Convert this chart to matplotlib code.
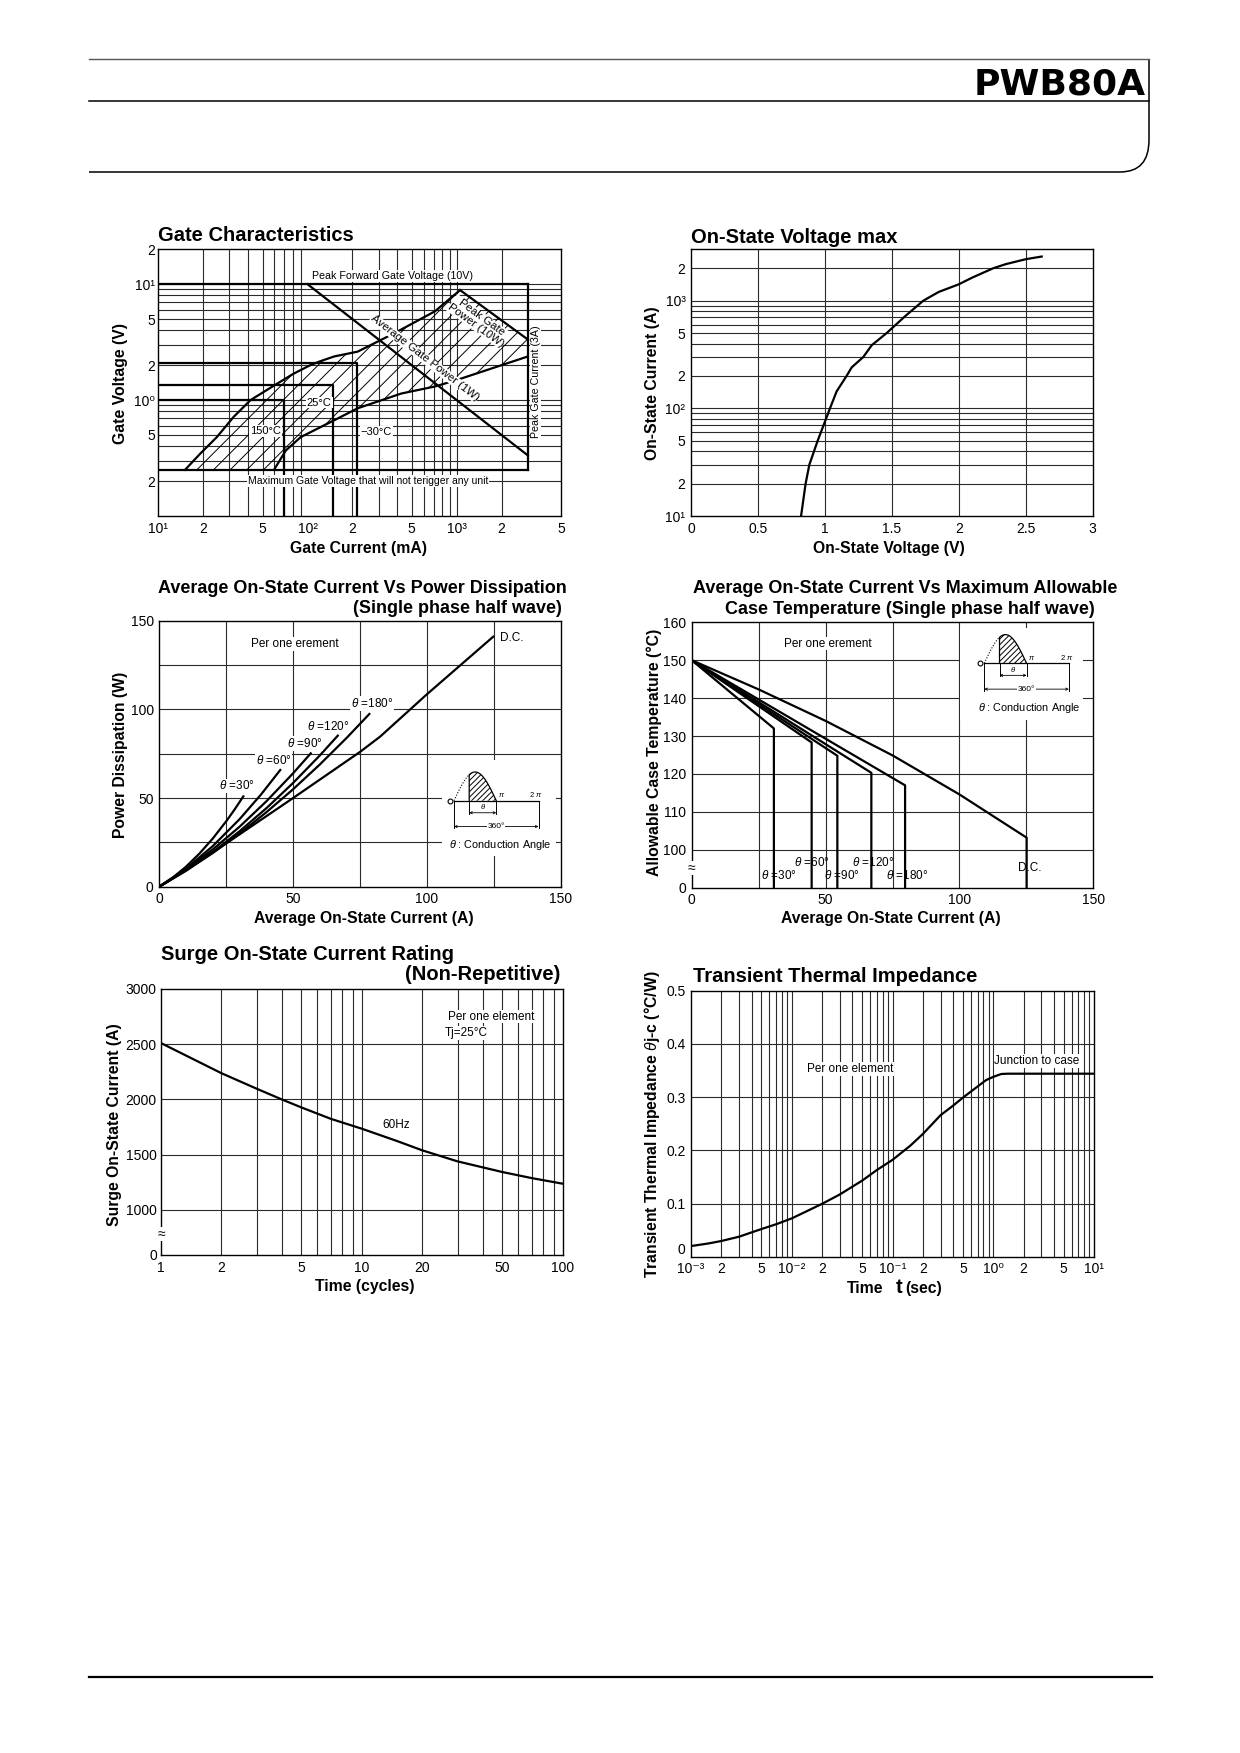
import numpy as np
import matplotlib
matplotlib.use('Agg')
import matplotlib.pyplot as plt
from matplotlib.lines import Line2D
from matplotlib.patches import Polygon, PathPatch
from matplotlib.path import Path
from matplotlib.ticker import NullLocator, NullFormatter

plt.rcParams['font.family'] = ['Liberation Sans', 'DejaVu Sans']
plt.rcParams['mathtext.fontset'] = 'custom'
plt.rcParams['mathtext.rm'] = 'Liberation Sans'
plt.rcParams['mathtext.it'] = 'Liberation Sans:italic'
plt.rcParams['mathtext.bf'] = 'Liberation Sans:bold'
plt.rcParams['hatch.linewidth'] = 0.7
plt.rcParams['hatch.color'] = 'black'

# ---------------- data ----------------
# Gate characteristics (mA, V)
gate_upper_I = [15.1, 19.1, 24.7, 32.0, 41.5, 62.8, 80, 102.6, 120, 151, 217, 384, 714, 1052]
gate_upper_V = [0.25, 0.345, 0.48, 0.717, 1.0, 1.39, 1.68, 1.98, 2.15, 2.38, 2.62, 3.79, 5.83, 8.88]
gate_lower_I = [59.6, 71.6, 90.2, 151, 217, 426, 714, 1000, 3000]
gate_lower_V = [0.25, 0.368, 0.48, 0.67, 0.85, 1.14, 1.31, 1.49, 2.38]
peak_power_I = [1052, 3000]
peak_power_V = [8.9, 3.33]
avg_power_I = [100, 3000]
avg_power_V = [10, 0.333]
peak_fwd_gate_V = 10
peak_gate_I = 3000
gate_nontrig_V = 0.25
temp_labels = ['150°C', '25°C', '\u221230°C']
temp_IGT = [70, 149, 214]
temp_VGT = [1.0, 1.34, 2.1]

# On-state voltage max
vt_V = [0.822, 0.856, 0.884, 0.946, 1.038, 1.088, 1.162, 1.2, 1.287, 1.35, 1.461, 1.6, 1.735,
        1.85, 2.0, 2.1, 2.257, 2.35, 2.5, 2.619]
vt_I = [10, 20, 30, 50, 100, 144, 200, 240, 300, 386, 500, 719, 1000,
        1205, 1419, 1637, 2000, 2183, 2427, 2570]

# Average current vs power dissipation
pd_I_30 = [0, 5, 10, 15, 20, 25, 28, 31.4]
pd_P_30 = [0, 5.08, 11.3, 18.68, 27.2, 36.88, 43.23, 50.94]
pd_I_60 = [0, 10, 20, 30, 38, 45.2]
pd_P_60 = [0, 10.23, 22.92, 38.07, 51.96, 65.81]
pd_I_90 = [0, 10, 20, 30, 40, 50, 56.6]
pd_P_90 = [0, 9.76, 21.03, 33.82, 48.13, 63.95, 75.2]
pd_I_120 = [0, 10, 20, 30, 40, 50, 60, 66.7]
pd_P_120 = [0, 9.14, 19.56, 31.26, 44.24, 58.5, 74.04, 85.17]
pd_I_180 = [0, 10, 20, 30, 40, 50, 60, 70, 78.5]
pd_P_180 = [0, 9.0, 19.0, 29.98, 41.97, 54.95, 68.93, 83.9, 97.4]
pd_I_dc = [0, 10, 25, 50, 75, 82.5, 100, 124.8]
pd_P_dc = [0, 9.5, 24.4, 50, 76, 84.6, 108.5, 141]

# Average current vs allowable case temperature
ct_I_30 = [0, 30.7, 30.7]
ct_T_30 = [150, 132, 90]
ct_I_60 = [0, 44.8, 44.8]
ct_T_60 = [150, 128.3, 90]
ct_I_90 = [0, 54.4, 54.4]
ct_T_90 = [150, 124.8, 90]
ct_I_120 = [0, 67.1, 67.1]
ct_T_120 = [150, 120.3, 90]
ct_I_180 = [0, 79.7, 79.7]
ct_T_180 = [150, 117.0, 90]
ct_I_dc = [0, 25, 50, 75, 100, 125.1, 125.1]
ct_T_dc = [150, 142.3, 134.0, 124.9, 114.6, 103.2, 90]

# Surge on-state current
surge_cycles = [1, 2, 3, 4, 5, 7, 10, 15, 20, 30, 50, 70, 100]
surge_I = [2510, 2237, 2096, 1999, 1927, 1824, 1734, 1622, 1538, 1438, 1342, 1287, 1236]

# Transient thermal impedance
tt_t = [1e-3, 1.5e-3, 2e-3, 3e-3, 5e-3, 7e-3, 1e-2, 2e-2, 3e-2, 5e-2, 7e-2, 1e-1, 1.5e-1, 2e-1,
        3e-1, 4e-1, 5e-1, 7e-1, 0.85, 1.0, 1.2, 1.4, 10]
tt_Z = [0.020, 0.025, 0.0295, 0.0376, 0.052, 0.061, 0.072, 0.0994, 0.117, 0.143, 0.163, 0.182,
        0.2086, 0.2306, 0.266, 0.284, 0.299, 0.320, 0.332, 0.338, 0.3434, 0.344, 0.344]

# ---------------- helpers ----------------
W, H = 1240, 1753
fig = plt.figure(figsize=(W / 100, H / 100), dpi=100)
fig.patch.set_facecolor('white')

GRID = dict(color='#2a2a2a', lw=0.8, zorder=1)
CURVE = dict(color='black', lw=1.6, zorder=3)
BOLD = dict(color='black', lw=1.6, zorder=3)
TICK_FS = 10
SMALL_FS = 8.5
TITLE = dict(fontsize=14.5, fontweight='bold', va='baseline')
TITLE2 = dict(fontsize=13.0, fontweight='bold', va='baseline')
LABEL = dict(fontsize=11.3, fontweight='bold')
WHITE = dict(facecolor='white', edgecolor='none', pad=0.6)


def px_axes(l, t, r, b):
    ax = fig.add_axes([l / W, 1 - b / H, (r - l) / W, (b - t) / H])
    for s in ax.spines.values():
        s.set_linewidth(1.0)
        s.set_color('black')
        s.set_zorder(5)
    ax.tick_params(which='both', length=0, labelsize=TICK_FS, pad=4)
    return ax


def ftext(x, y, s, **kw):
    return fig.text(x / W, 1 - y / H, s, **kw)


def grid(ax, xs=(), ys=()):
    for v in xs:
        ax.axvline(v, **GRID)
    for v in ys:
        ax.axhline(v, **GRID)


def no_minor(ax):
    for a in (ax.xaxis, ax.yaxis):
        a.set_minor_locator(NullLocator())
        a.set_minor_formatter(NullFormatter())


def cond_inset(box, origin, text_x, sx=13.45, sy=28.7):
    l, t, r, b = box
    ox, oy = origin
    ia = fig.add_axes([l / W, 1 - b / H, (r - l) / W, (b - t) / H])
    ia.set_xlim((l - ox) / sx, (r - ox) / sx)
    ia.set_ylim((oy - b) / sy, (oy - t) / sy)
    ia.set_xticks([])
    ia.set_yticks([])
    for s in ia.spines.values():
        s.set_visible(False)
    ia.set_facecolor('white')
    a = 0.36 * np.pi
    p = np.linspace(0, a, 30)
    ia.plot(p, np.sin(p), ls=(0, (1, 1.5)), color='k', lw=0.8)
    q = np.linspace(a, np.pi, 40)
    ia.fill_between(q, 0, np.sin(q), facecolor='white', edgecolor='k', hatch='//////', lw=0)
    ia.plot(np.r_[a, q], np.r_[0, np.sin(q)], color='k', lw=0.9)
    ia.plot([0, 2 * np.pi], [0, 0], color='k', lw=0.9)
    ia.plot([0, 0], [0, -0.95], color='k', lw=0.7)
    ia.plot([2 * np.pi, 2 * np.pi], [0, -0.95], color='k', lw=0.7)
    ia.plot([a, a], [0, -0.45], color='k', lw=0.7)
    ia.plot([np.pi, np.pi], [0, -0.45], color='k', lw=0.7)
    ia.annotate('', xy=(a, -0.42), xytext=(np.pi, -0.42),
                arrowprops=dict(arrowstyle='<->', lw=0.6, mutation_scale=4, shrinkA=0, shrinkB=0))
    ia.text((a + np.pi) / 2, -0.2, r'$\theta$', fontsize=5.5, ha='center', va='center')
    ia.annotate('', xy=(0, -0.9), xytext=(2 * np.pi, -0.9),
                arrowprops=dict(arrowstyle='<->', lw=0.6, mutation_scale=4, shrinkA=0, shrinkB=0))
    ia.text(np.pi, -0.9, '360°', fontsize=6, ha='center', va='center',
            bbox=dict(facecolor='white', edgecolor='none', pad=0.3))
    ia.plot(-0.3, 0, 'o', mfc='white', mec='k', ms=3.5, mew=0.8)
    ia.text(3.55, 0.2, r'$\pi$', fontsize=5.5, ha='center', va='center')
    ia.text(6.11, 0.2, r'$2\ \pi$', fontsize=5.5, ha='center', va='center')
    ia.text(text_x, -1.55, r'$\theta$ : Conduction Angle', fontsize=7.8, ha='center', va='center')
    return ia


# ---------------- header / footer ----------------
def hline(x0, x1, y, **kw):
    fig.add_artist(Line2D([x0 / W, x1 / W], [1 - y / H, 1 - y / H], **kw))


hline(89, 1149, 59.3, color='#555555', lw=1.0)
hline(89, 1149, 100.8, color='black', lw=1.1)
verts = [(1149, 59.3), (1149, 140), (1149, 172), (1120, 172), (89, 172)]
codes = [Path.MOVETO, Path.LINETO, Path.CURVE3, Path.CURVE3, Path.LINETO]
path = Path([(x / W, 1 - y / H) for x, y in verts], codes)
fig.add_artist(PathPatch(path, facecolor='none', edgecolor='black', lw=1.1,
                         transform=fig.transFigure))
ftext(1146, 94.5, 'PWB80A', ha='right', va='baseline', fontsize=26, fontweight='bold',
      family='DejaVu Sans')
hline(89, 1152, 1677, color='black', lw=1.6)

# ---------------- 1. Gate characteristics ----------------
ax = px_axes(158.3, 249.3, 561, 516)
ax.set_xscale('log')
ax.set_yscale('log')
ax.set_xlim(10, 5000)
ax.set_ylim(0.1, 20)
no_minor(ax)
gx = [m * 10 ** d for d in (1, 2) for m in range(2, 10)] + [1000, 2000]
gy = [m * 10 ** d for d in (-1, 0) for m in range(2, 10)] + [1, 10]
grid(ax, gx, gy)
ax.set_xticks([10, 20, 50, 100, 200, 500, 1000, 2000, 5000])
ax.set_xticklabels(['10¹', '2', '5', '10²', '2', '5', '10³', '2', '5'])
ax.set_yticks([0.2, 0.5, 1, 2, 5, 10, 20])
ax.set_yticklabels(['2', '5', '10\u2070', '2', '5', '10¹', '2'])
ax.tick_params(axis='y', pad=2.5)

poly_x = gate_upper_I + [peak_power_I[1]] + gate_lower_I[::-1]
poly_y = gate_upper_V + [peak_power_V[1]] + gate_lower_V[::-1]
ax.add_patch(Polygon(list(zip(poly_x, poly_y)), closed=True, facecolor='none',
                     edgecolor='black', lw=0, hatch='//', zorder=2))
ax.plot(gate_upper_I, gate_upper_V, **CURVE)
ax.plot(gate_lower_I, gate_lower_V, **CURVE)
ax.plot(peak_power_I, peak_power_V, **CURVE)
ax.plot(avg_power_I, avg_power_V, **CURVE)
ax.plot([10, peak_gate_I], [peak_fwd_gate_V, peak_fwd_gate_V], **BOLD)
ax.plot([peak_gate_I, peak_gate_I], [gate_nontrig_V, peak_fwd_gate_V], **BOLD)
ax.plot([10, peak_gate_I], [gate_nontrig_V, gate_nontrig_V], **BOLD)
for igt, vgt in zip(temp_IGT, temp_VGT):
    ax.plot([10, igt, igt], [vgt, vgt, 0.1], **BOLD)

ax.text(374, 11.7, 'Peak Forward Gate Voltage (10V)', fontsize=7.7, ha='center', va='center',
        bbox=WHITE, zorder=4)
ax.text(3374, 1.44, 'Peak Gate Current (3A)', fontsize=7.7, ha='center', va='center',
        rotation=90, bbox=WHITE, zorder=4)
ax.text(610, 2.3, 'Average Gate Power (1W)', fontsize=8.2, ha='center', va='center',
        rotation=-37.7, rotation_mode='anchor', zorder=4,
        bbox=dict(facecolor='white', edgecolor='none', pad=0.2))
ax.text(1406, 4.75, 'Peak Gate\nPower (10W)', fontsize=8.2, ha='center', va='center',
        rotation=-36, rotation_mode='anchor', zorder=4, linespacing=0.95,
        bbox=dict(facecolor='white', edgecolor='none', pad=0.2))
ax.text(52.4, 0.54, temp_labels[0], fontsize=8, ha='center', va='center', bbox=WHITE, zorder=4)
ax.text(120, 0.95, temp_labels[1], fontsize=8, ha='center', va='center', bbox=WHITE, zorder=4)
ax.text(289, 0.53, temp_labels[2], fontsize=8, ha='center', va='center', bbox=WHITE, zorder=4)
ax.text(254, 0.2, 'Maximum Gate Voltage that will not terigger any unit', fontsize=7.5,
        ha='center', va='center', bbox=WHITE, zorder=4)

ftext(158.3, 240.7, 'Gate Characteristics', ha='left', **TITLE)
ftext(359, 553, 'Gate Current (mA)', ha='center', va='baseline', **LABEL)
ftext(120, 383, 'Gate Voltage (V)', ha='center', va='center', rotation=90, **LABEL)

# ---------------- 2. On-state voltage ----------------
ax = px_axes(691, 249.3, 1092.7, 516)
ax.set_yscale('log')
ax.set_xlim(0, 3)
ax.set_ylim(10, 3000)
no_minor(ax)
grid(ax, [0.5, 1, 1.5, 2, 2.5],
     [m * 10 ** d for d in (1, 2) for m in range(2, 10)] + [100, 1000, 2000])
ax.plot(vt_V, vt_I, **CURVE)
ax.set_xticks([0, 0.5, 1, 1.5, 2, 2.5, 3])
ax.set_xticklabels(['0', '0.5', '1', '1.5', '2', '2.5', '3'])
ax.set_yticks([10, 20, 50, 100, 200, 500, 1000, 2000])
ax.set_yticklabels(['10¹', '2', '5', '10²', '2', '5', '10³', '2'])
ftext(691, 242.7, 'On-State Voltage max', ha='left', **TITLE)
ftext(889, 553, 'On-State Voltage (V)', ha='center', va='baseline', **LABEL)
ftext(652, 383, 'On-State Current (A)', ha='center', va='center', rotation=90, **LABEL)

# ---------------- 3. Power dissipation ----------------
ax = px_axes(159.3, 620.7, 560.7, 886.7)
ax.set_xlim(0, 150)
ax.set_ylim(0, 150)
grid(ax, [25, 50, 75, 100, 125], [25, 50, 75, 100, 125])
for xs, ys in [(pd_I_30, pd_P_30), (pd_I_60, pd_P_60), (pd_I_90, pd_P_90),
               (pd_I_120, pd_P_120), (pd_I_180, pd_P_180), (pd_I_dc, pd_P_dc)]:
    ax.plot(xs, ys, **CURVE)
ax.set_xticks([0, 50, 100, 150])
ax.set_yticks([0, 50, 100, 150])
ax.text(50.7, 136.8, 'Per one erement', fontsize=SMALL_FS, ha='center', va='center', bbox=WHITE)
ax.text(127.3, 140.4, 'D.C.', fontsize=SMALL_FS, ha='left', va='center')
for lab, x, y in [('180', 79.4, 103.4), ('120', 63.2, 90.6), ('90', 54.4, 80.8),
                  ('60', 42.6, 71.1), ('30', 28.9, 56.8)]:
    ax.text(x, y, r'$\theta$ =' + lab + '°', fontsize=SMALL_FS, ha='center', va='center',
            bbox=WHITE, zorder=4)
cond_inset((441.7, 760, 556, 856), (454, 800.7), 3.42)
ftext(158.3, 593.3, 'Average On-State Current Vs Power Dissipation', ha='left', **TITLE2)
ftext(562, 613.3, '(Single phase half wave)', ha='right', **TITLE2)
ftext(364, 923.3, 'Average On-State Current (A)', ha='center', va='baseline', **LABEL)
ftext(120, 755, 'Power Dissipation (W)', ha='center', va='center', rotation=90, **LABEL)

# ---------------- 4. Case temperature ----------------
ax = px_axes(691.7, 622.3, 1093.3, 887.7)
ax.set_xlim(0, 150)
ax.set_ylim(90, 160)
grid(ax, [25, 50, 75, 100, 125], [100, 110, 120, 130, 140, 150])
for xs, ys in [(ct_I_30, ct_T_30), (ct_I_60, ct_T_60), (ct_I_90, ct_T_90),
               (ct_I_120, ct_T_120), (ct_I_180, ct_T_180), (ct_I_dc, ct_T_dc)]:
    ax.plot(xs, ys, **CURVE)
ax.set_xticks([0, 50, 100, 150])
ax.set_yticks([90, 100, 110, 120, 130, 140, 150, 160])
ax.set_yticklabels(['0', '100', '110', '120', '130', '140', '150', '160'])
ax.text(51, 154.4, 'Per one erement', fontsize=SMALL_FS, ha='center', va='center', bbox=WHITE)
for lab, x, y in [('30', 32.4, 93.2), ('60', 44.8, 96.6), ('90', 56, 93.2),
                  ('120', 67.8, 96.6), ('180', 80.3, 93.2)]:
    ax.text(x, y, r'$\theta$ =' + lab + '°', fontsize=SMALL_FS, ha='center', va='center', zorder=4)
ax.text(126.3, 95.2, 'D.C.', fontsize=SMALL_FS, ha='center', va='center')
ax.text(0, 0.075, '≈', transform=ax.transAxes, fontsize=10, ha='center', va='center',
        bbox=dict(facecolor='white', edgecolor='none', pad=0.2), zorder=6)
cond_inset((960, 628, 1083, 720), (984.3, 663.3), 3.35)
ftext(693.3, 593.3, 'Average On-State Current Vs Maximum Allowable', ha='left', **TITLE2)
ftext(1095, 614, 'Case Temperature (Single phase half wave)', ha='right', **TITLE2)
ftext(891, 923.3, 'Average On-State Current (A)', ha='center', va='baseline', **LABEL)
ftext(654, 752, 'Allowable Case Temperature (°C)', ha='center', va='center', rotation=90, **LABEL)

# ---------------- 5. Surge current ----------------
ax = px_axes(161, 989, 562.7, 1255)
ax.set_xscale('log')
ax.set_xlim(1, 100)
ax.set_ylim(590, 3000)
no_minor(ax)
grid(ax, [m for m in range(2, 10)] + [m * 10 for m in range(1, 10)], [1000, 1500, 2000, 2500])
ax.plot(surge_cycles, surge_I, **CURVE)
ax.set_xticks([1, 2, 5, 10, 20, 50, 100])
ax.set_xticklabels(['1', '2', '5', '10', '20', '50', '100'])
ax.set_yticks([590, 1000, 1500, 2000, 2500, 3000])
ax.set_yticklabels(['0', '1000', '1500', '2000', '2500', '3000'])
ax.tick_params(axis='y', pad=3)
ax.text(44.3, 2750, 'Per one element', fontsize=SMALL_FS, ha='center', va='center', bbox=WHITE)
ax.text(25.9, 2600, 'Tj=25°C', fontsize=SMALL_FS, ha='left', va='center', bbox=WHITE)
ax.text(14.9, 1764, '60Hz', fontsize=SMALL_FS, ha='center', va='center')
ax.text(0, 0.079, '≈', transform=ax.transAxes, fontsize=10, ha='center', va='center',
        bbox=dict(facecolor='white', edgecolor='none', pad=0.2), zorder=6)
ftext(161, 960, 'Surge On-State Current Rating', ha='left', **TITLE)
ftext(560, 979.5, '(Non-Repetitive)', ha='right', **TITLE)
ftext(365, 1291.5, 'Time (cycles)', ha='center', va='baseline', **LABEL)
ftext(115, 1125, 'Surge On-State Current (A)', ha='center', va='center', rotation=90, **LABEL)

# ---------------- 6. Transient thermal impedance ----------------
ax = px_axes(691, 990.7, 1094, 1256.7)
ax.set_xscale('log')
ax.set_xlim(1e-3, 10)
ax.set_ylim(0, 0.5)
no_minor(ax)
grid(ax, [m * 10.0 ** d for d in (-3, -2, -1, 0) for m in range(2, 10)] + [1e-2, 1e-1, 1],
     [0.1, 0.2, 0.3, 0.4])
ax.plot(tt_t, tt_Z, **CURVE)
ax.set_xticks([1e-3, 2e-3, 5e-3, 1e-2, 2e-2, 5e-2, 1e-1, 2e-1, 5e-1, 1, 2, 5, 10])
ax.set_xticklabels(['10\u207b\u00b3', '2', '5', '10\u207b\u00b2', '2', '5', '10\u207b\u00b9',
                    '2', '5', '10\u2070', '2', '5', '10\u00b9'])
ax.tick_params(axis='x', pad=3.5)
ax.set_yticks([0, 0.1, 0.2, 0.3, 0.4, 0.5])
ax.set_yticklabels(['0', '0.1', '0.2', '0.3', '0.4', '0.5'])
ax.get_yticklabels()[0].set_va('bottom')
ax.text(0.038, 0.3527, 'Per one element', fontsize=SMALL_FS, ha='center', va='center', bbox=WHITE)
ax.text(2.72, 0.368, 'Junction to case', fontsize=SMALL_FS, ha='center', va='center', bbox=WHITE)
ftext(693, 981.7, 'Transient Thermal Impedance', ha='left', **TITLE)
ftext(847, 1293, 'Time', ha='left', va='baseline', **LABEL)
ftext(896, 1293, 't', ha='left', va='baseline', fontsize=14.5, fontweight='bold')
ftext(905, 1293, '(sec)', ha='left', va='baseline', **LABEL)
ftext(652, 1124, r'Transient Thermal Impedance $\theta$j-c (°C/W)', ha='center', va='center',
      rotation=90, **LABEL)

fig.savefig('out.png', dpi=100, facecolor='white')
